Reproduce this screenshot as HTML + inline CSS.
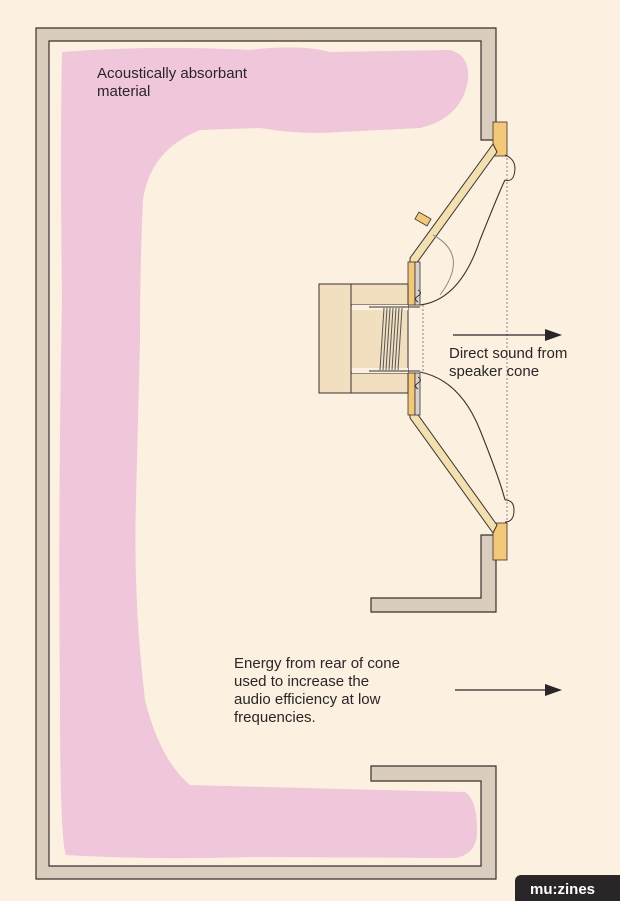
<!DOCTYPE html>
<html><head><style>
body{margin:0;background:#fcf0e0;}
svg{display:block}
text{font-family:"Liberation Sans",sans-serif;font-size:15px;fill:#2a2528}
</style></head><body>
<svg width="620" height="901" viewBox="0 0 620 901">
<rect width="620" height="901" fill="#fcf0e0"/>
<!-- pink absorbent -->
<path d="M62 52 Q150 45 250 50 Q300 44 330 52 L450 50 Q470 55 468 80 Q462 118 420 128 L340 132 Q300 135 260 128 L200 130 Q150 150 143 200 Q140 260 140 340 L136 500 Q133 600 145 700 Q160 760 190 785 L380 790 L465 792 Q478 800 477 835 Q475 855 455 858 L250 857 Q150 860 66 855 Q60 840 60 700 Q58 500 62 300 Q60 150 62 52 Z" fill="#f0c6da"/>
<!-- cabinet walls -->
<path d="M36 28 L496 28 L496 140 L481 140 L481 41 L49 41 L49 866 L481 866 L481 781 L371 781 L371 766 L496 766 L496 879 L36 879 Z" fill="#dacdbd" stroke="#3a3030" stroke-width="1.2"/>
<path d="M481 535 L496 535 L496 612 L371 612 L371 598 L481 598 Z" fill="#dacdbd" stroke="#3a3030" stroke-width="1.2"/>
<!-- dotted line -->
<line x1="507" y1="150" x2="507" y2="525" stroke="#888" stroke-width="1" stroke-dasharray="2,2"/>
<!-- orange gaskets -->
<rect x="493" y="122" width="14" height="34" fill="#f3c878" stroke="#3a3030" stroke-width="0.8"/>
<rect x="493" y="523" width="14" height="37" fill="#f3c878" stroke="#3a3030" stroke-width="0.8"/>
<rect x="416" y="215" width="14" height="8" fill="#f3c878" stroke="#3a3030" stroke-width="0.8" transform="rotate(30 423 219)"/>
<!-- basket -->
<path d="M493 144 L410 258 L410 264 L416 264 L497 152 Z" fill="#f3e0b0" stroke="#3a3030" stroke-width="1"/>
<path d="M493 533 L410 418 L410 412 L416 412 L497 525 Z" fill="#f3e0b0" stroke="#3a3030" stroke-width="1"/>
<!-- plates -->
<rect x="408" y="262" width="7" height="43" fill="#f3c878" stroke="#3a3030" stroke-width="0.8"/>
<rect x="415" y="262" width="5" height="43" fill="#d8d2ce" stroke="#3a3030" stroke-width="0.8"/>
<rect x="408" y="373" width="7" height="42" fill="#f3c878" stroke="#3a3030" stroke-width="0.8"/>
<rect x="415" y="373" width="5" height="42" fill="#d8d2ce" stroke="#3a3030" stroke-width="0.8"/>
<!-- magnet -->
<rect x="319" y="284" width="89" height="109" fill="#f2dfbf" stroke="#3a3030" stroke-width="1"/>
<line x1="351" y1="284" x2="351" y2="393" stroke="#3a3030"/>
<rect x="351" y="305" width="57" height="68" fill="#f2dfbf" stroke="#3a3030" stroke-width="1"/>
<rect x="352" y="305" width="56" height="5" fill="#fcf0e0"/>
<rect x="352" y="368" width="56" height="5" fill="#fcf0e0"/>
<g stroke="#555" stroke-width="1">
<line x1="384" y1="308" x2="380" y2="370"/><line x1="387" y1="308" x2="383" y2="370"/><line x1="390" y1="308" x2="386" y2="370"/><line x1="393" y1="308" x2="389" y2="370"/><line x1="396" y1="308" x2="392" y2="370"/><line x1="399" y1="308" x2="395" y2="370"/><line x1="402" y1="308" x2="398" y2="370"/>
</g>
<line x1="369" y1="307" x2="420" y2="307" stroke="#3a3030"/>
<line x1="369" y1="371" x2="420" y2="371" stroke="#3a3030"/>
<line x1="423" y1="305" x2="423" y2="373" stroke="#888" stroke-dasharray="2,2"/>
<!-- cone curves -->
<path d="M420 305 Q460 300 480 240 Q500 190 505 180" fill="none" stroke="#3a3030" stroke-width="1.1"/>
<path d="M420 372 Q460 380 480 430 Q500 480 505 500" fill="none" stroke="#3a3030" stroke-width="1.1"/>
<path d="M505 155 Q518 160 514 175 Q512 182 505 180" fill="none" stroke="#3a3030" stroke-width="1"/>
<path d="M505 500 Q514 500 514 510 Q514 522 505 522" fill="none" stroke="#3a3030" stroke-width="1"/>
<path d="M433 235 Q470 255 440 295" fill="none" stroke="#888" stroke-width="1"/>
<path d="M418 290 q5 3 0 6 q-5 3 0 6" fill="none" stroke="#3a3030"/>
<path d="M418 377 q5 3 0 6 q-5 3 0 6" fill="none" stroke="#3a3030"/>
<!-- arrows -->
<line x1="453" y1="335" x2="548" y2="335" stroke="#2a2528" stroke-width="1.3"/>
<path d="M562 335 L545 329 L545 341 Z" fill="#2a2528"/>
<line x1="455" y1="690" x2="548" y2="690" stroke="#2a2528" stroke-width="1.3"/>
<path d="M562 690 L545 684 L545 696 Z" fill="#2a2528"/>
<!-- text -->
<text x="97" y="78">Acoustically absorbant</text>
<text x="97" y="96">material</text>
<text x="449" y="358">Direct sound from</text>
<text x="449" y="376">speaker cone</text>
<text x="234" y="668">Energy from rear of cone</text>
<text x="234" y="686">used to increase the</text>
<text x="234" y="704">audio efficiency at low</text>
<text x="234" y="722">frequencies.</text>
<!-- logo -->
<rect x="515" y="875" width="110" height="30" rx="6" fill="#2a2628"/>
<text x="530" y="894" style="font-size:15px;font-weight:bold;fill:#fff">mu:zines</text>
</svg>
</body></html>
